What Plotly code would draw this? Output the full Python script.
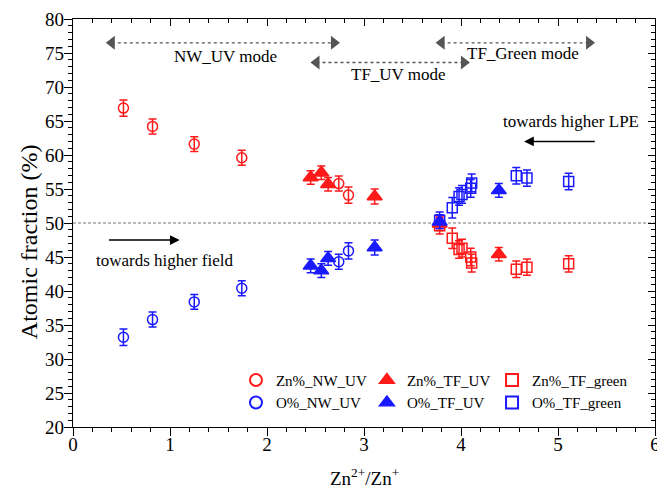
import plotly.graph_objects as go

# ---- data ----
nw_x = [0.52, 0.82, 1.25, 1.74, 2.74, 2.84]
nw_zn = [66.9, 64.2, 61.6, 59.6, 55.8, 54.1]
nw_o = [33.2, 35.8, 38.4, 40.4, 44.3, 45.9]
nw_err = [1.2, 1.1, 1.1, 1.1, 1.1, 1.2]

tfuv_x = [2.45, 2.56, 2.63, 3.11, 3.78, 4.39]
tfuv_zn = [56.7, 57.4, 55.7, 53.9, 49.9, 45.4]
tfuv_o = [43.7, 43.0, 44.8, 46.4, 50.2, 54.8]
tfuv_err = [1.0, 1.0, 1.0, 1.1, 1.0, 1.0]

tfg_x = [3.78, 3.91, 3.98, 4.01, 4.10, 4.11, 4.57, 4.68, 5.11]
tfg_zn = [49.6, 47.75, 46.1, 46.3, 45.0, 44.1, 43.2, 43.5, 44.0]
tfg_o = [50.4, 52.25, 53.9, 54.2, 55.1, 55.9, 56.95, 56.6, 56.1]
tfg_err = [1.2, 1.5, 1.3, 1.3, 1.3, 1.3, 1.2, 1.2, 1.2]

x_range = [0, 6]
y_range = [20, 80]

RED = "#ff1a1a"
BLUE = "#1a1aff"
FONT = "Liberation Serif"

fig = go.Figure()


def add(x, y, err, name, color, symbol, size, legend, rank):
    fig.add_trace(go.Scatter(
        x=x, y=y, mode="markers", name=name,
        marker=dict(symbol=symbol, color=color, size=size, line=dict(width=1.5, color=color)),
        error_y=dict(type="data", array=err, color=color, thickness=1.5, width=4),
        legend=legend, legendrank=rank,
    ))


add(nw_x, nw_zn, nw_err, "Zn%_NW_UV", RED, "circle-open", 10, "legend", 1)
add(nw_x, nw_o, nw_err, "O%_NW_UV", BLUE, "circle-open", 10, "legend", 2)
add(tfg_x, tfg_zn, tfg_err, "Zn%_TF_green", RED, "square-open", 10, "legend3", 1)
add(tfg_x, tfg_o, tfg_err, "O%_TF_green", BLUE, "square-open", 10, "legend3", 2)
add(tfuv_x, tfuv_zn, tfuv_err, "Zn%_TF_UV", RED, "triangle-up", 13, "legend2", 1)
add(tfuv_x, tfuv_o, tfuv_err, "O%_TF_UV", BLUE, "triangle-up", 13, "legend2", 2)

# mode ranges (double arrows, dotted)
modes = [
    ("NW_UV mode", 0.40, 2.69, 76.5, 1.57, 74.5),
    ("TF_UV mode", 2.51, 4.03, 73.6, 3.36, 71.9),
    ("TF_Green mode", 3.80, 5.32, 76.5, 4.64, 75.0),
]
for label, x0, x1, yy, tx, ty in modes:
    fig.add_trace(go.Scatter(
        x=[x0, x1], y=[yy, yy], mode="lines+markers", showlegend=False, hoverinfo="skip",
        line=dict(color="#555555", width=1.3, dash="dot"),
        marker=dict(symbol=["triangle-left", "triangle-right"], color="#555555", size=12),
    ))
    fig.add_annotation(x=tx, y=ty, text=label, showarrow=False,
                       font=dict(family=FONT, size=17, color="black"))

# empty trace so that the mirrored (top/right) axes with inward ticks exist
fig.add_trace(go.Scatter(x=[None], y=[None], xaxis="x2", yaxis="y2", showlegend=False, hoverinfo="skip"))

# reference line at 50 %
fig.add_shape(type="line", x0=0, x1=6, y0=50, y1=50, xref="x", yref="y",
              line=dict(color="#777777", width=1, dash="3px,2px"), layer="below")

# direction arrows
fig.add_annotation(x=1.10, y=47.5, ax=0.35, ay=47.5, xref="x", yref="y", axref="x", ayref="y",
                   showarrow=True, arrowhead=2, arrowsize=1.3, arrowwidth=1.5, arrowcolor="black",
                   text=" ", font=dict(family=FONT, size=2))
fig.add_annotation(x=0.945, y=44.45, text="towards higher field", showarrow=False,
                   font=dict(family=FONT, size=17, color="black"))
fig.add_annotation(x=4.65, y=62.0, ax=5.40, ay=62.0, xref="x", yref="y", axref="x", ayref="y",
                   showarrow=True, arrowhead=2, arrowsize=1.3, arrowwidth=1.5, arrowcolor="black",
                   text=" ", font=dict(family=FONT, size=2))
fig.add_annotation(x=5.13, y=65.0, text="towards higher LPE", showarrow=False,
                   font=dict(family=FONT, size=17, color="black"))

# axis titles
fig.add_annotation(xref="paper", yref="paper", x=0.5, y=-0.157, yanchor="bottom",
                   text="Zn<sup>2+</sup>/Zn<sup>+</sup>", showarrow=False,
                   font=dict(family=FONT, size=19, color="black"))
fig.add_annotation(xref="paper", yref="paper", x=-0.0756, y=0.453, xanchor="center", yanchor="middle",
                   text="Atomic fraction (%)", textangle=-90, showarrow=False,
                   font=dict(family=FONT, size=24, color="black"))

axis_common = dict(
    showline=True, linecolor="black", linewidth=1.3, mirror=False,
    ticks="outside", ticklen=8, tickwidth=1.3, tickcolor="black",
    showgrid=False, zeroline=False, automargin=False,
    tickfont=dict(family=FONT, size=19, color="black"),
)
mirror_common = dict(
    showline=True, linecolor="black", linewidth=1.3,
    ticks="inside", ticklen=7, tickwidth=1.3, tickcolor="black",
    showgrid=False, zeroline=False, automargin=False, showticklabels=False,
)

fig.update_layout(
    xaxis=dict(range=x_range, dtick=1, tick0=0, ticklabelstandoff=-8,
               minor=dict(dtick=0.2, ticks="outside", ticklen=4, tickcolor="black", tickwidth=1),
               **axis_common),
    yaxis=dict(range=y_range, dtick=5, tick0=20, ticklabelstandoff=-4,
               minor=dict(dtick=1, ticks="outside", ticklen=4, tickcolor="black", tickwidth=1),
               **axis_common),
    xaxis2=dict(range=x_range, dtick=1, tick0=0, overlaying="x", side="top", anchor="y2",
                minor=dict(dtick=0.2, ticks="inside", ticklen=4, tickcolor="black", tickwidth=1),
                **mirror_common),
    yaxis2=dict(range=y_range, dtick=5, tick0=20, overlaying="y", side="right", anchor="x2",
                minor=dict(dtick=1, ticks="inside", ticklen=4, tickcolor="black", tickwidth=1),
                **mirror_common),
)

leg_common = dict(font=dict(family=FONT, size=15, color="black"), bgcolor="rgba(0,0,0,0)",
                  yanchor="top", xanchor="left", y=0.155, tracegroupgap=0, itemsizing="constant")
fig.update_layout(
    width=657, height=485,
    margin=dict(l=65, r=10, t=11, b=66, autoexpand=False),
    plot_bgcolor="white", paper_bgcolor="white",
    font=dict(family=FONT, color="black"),
    legend=dict(x=0.28, **leg_common),
    legend2=dict(x=0.505, **leg_common),
    legend3=dict(x=0.72, **leg_common),
)

fig.write_html("out.html")
